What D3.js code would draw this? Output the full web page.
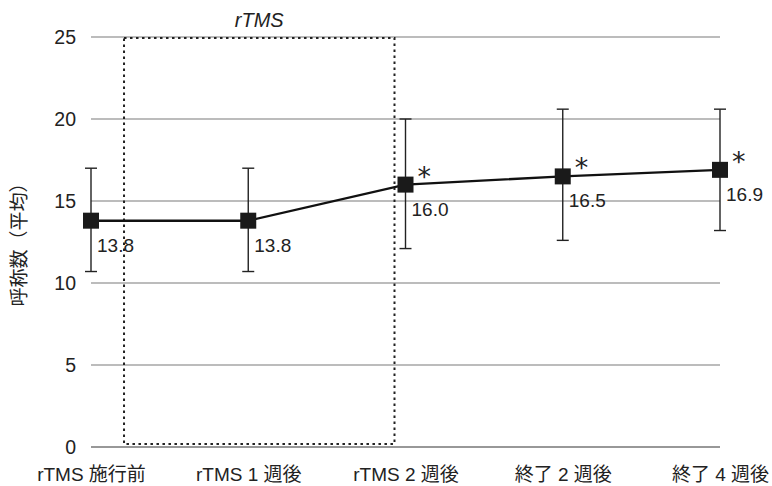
<!DOCTYPE html>
<html><head><meta charset="utf-8">
<script src="https://cdn.jsdelivr.net/npm/d3@7"></script>
<style>
html,body{margin:0;padding:0;background:#fff;}
text{font-family:"Liberation Sans","Noto Sans CJK JP",sans-serif;fill:#222;}
</style></head><body>
<svg id="c" width="772" height="486"></svg>
<script>
const categories = ["rTMS 施行前","rTMS 1 週後","rTMS 2 週後","終了 2 週後","終了 4 週後"];
const means = [13.8, 13.8, 16.0, 16.5, 16.9];
const upper = [17.0, 17.0, 20.0, 20.6, 20.6];
const lower = [10.7, 10.7, 12.1, 12.6, 13.2];
const significant = [false, false, true, true, true];
const yTicks = [0, 5, 10, 15, 20, 25];
const yTitle = "呼称数（平均）";
const periodLabel = "rTMS";

const svg = d3.select("#c");
const x = d3.scalePoint().domain(categories).range([91, 720]);
const y = d3.scaleLinear().domain([0, 25]).range([447, 37]);
const step = x.step();

// gridlines
svg.append("g").selectAll("line").data(yTicks).join("line")
  .attr("x1", 91).attr("x2", 720)
  .attr("y1", d => y(d)).attr("y2", d => y(d))
  .attr("stroke", d => d === 0 ? "#333" : "#7a7a7a").attr("stroke-width", 1.2);

// y axis labels
const yAxis = d3.axisLeft(y).tickValues(yTicks).tickSize(0).tickPadding(0);
const ga = svg.append("g").attr("transform", "translate(76,0)").call(yAxis);
ga.select(".domain").remove();
ga.selectAll("text").style("font-size", "19.5px").style("fill", "#222");

// x axis labels
const xAxis = d3.axisBottom(x).tickSize(0).tickPadding(0);
const gx = svg.append("g").attr("transform", "translate(0,481)").call(xAxis);
gx.select(".domain").remove();
gx.selectAll("text").attr("dy", 0).style("font-size", "19px").style("fill", "#222");

// y title
svg.append("text").attr("transform", "translate(26,240) rotate(-90)")
  .attr("text-anchor", "middle").style("font-size", "19px").text(yTitle);

// rTMS dotted rectangle
const rx0 = x(categories[0]) + 0.21 * step, rx1 = x(categories[2]) - 0.07 * step;
svg.append("rect").attr("x", rx0).attr("y", y(25) + 1).attr("width", rx1 - rx0).attr("height", y(0) - 4 - y(25))
  .attr("fill", "none").attr("stroke", "#222").attr("stroke-width", 2).attr("stroke-dasharray", "2.5,3.5");
svg.append("text").attr("x", (rx0 + rx1) / 2).attr("y", 27).attr("text-anchor", "middle")
  .style("font-size", "20px").attr("font-style", "italic").text(periodLabel);

// error bars
const eb = svg.append("g").attr("stroke", "#222").attr("stroke-width", 1.4);
categories.forEach((c, i) => {
  eb.append("line").attr("x1", x(c)).attr("x2", x(c)).attr("y1", y(upper[i])).attr("y2", y(lower[i]));
  eb.append("line").attr("x1", x(c) - 6).attr("x2", x(c) + 6).attr("y1", y(upper[i])).attr("y2", y(upper[i]));
  eb.append("line").attr("x1", x(c) - 6).attr("x2", x(c) + 6).attr("y1", y(lower[i])).attr("y2", y(lower[i]));
});

// line
svg.append("path").datum(means)
  .attr("d", d3.line().x((d, i) => x(categories[i])).y(d => y(d)))
  .attr("fill", "none").attr("stroke", "#111").attr("stroke-width", 2.4);

// markers
svg.append("g").selectAll("rect").data(means).join("rect")
  .attr("x", (d, i) => x(categories[i]) - 8).attr("y", d => y(d) - 8)
  .attr("width", 16).attr("height", 16).attr("fill", "#1a1a1a");

// value labels
svg.append("g").selectAll("text").data(means).join("text")
  .attr("x", (d, i) => x(categories[i]) + 6).attr("y", d => y(d) + 31)
  .style("font-size", "19px").text(d => d.toFixed(1));

// asterisks
svg.append("g").selectAll("text").data(means.map((d, i) => ({d, i})).filter(o => significant[o.i])).join("text")
  .attr("x", o => x(categories[o.i]) + 12).attr("y", o => y(o.d) + 1)
  .style("font-family", "DejaVu Sans, sans-serif").style("font-size", "27px").style("fill", "#222").text("*");
</script>
</body></html>
